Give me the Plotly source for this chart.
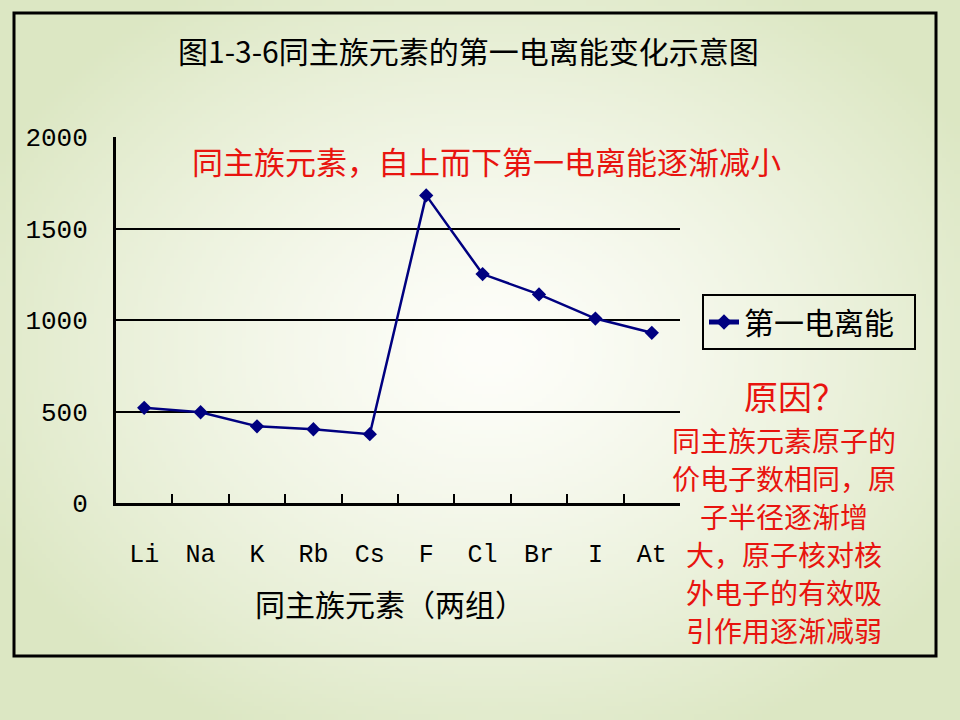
import base64, struct, zlib
import numpy as np
import plotly.graph_objects as go

# ---------------- data ----------------
elements = ["Li", "Na", "K", "Rb", "Cs", "F", "Cl", "Br", "I", "At"]
ionization = [520, 496, 419, 403, 376, 1681, 1251, 1140, 1008, 930]
y_ticks = [0, 500, 1000, 1500, 2000]
series_name = "第一电离能"
title_text = "图1-3-6同主族元素的第一电离能变化示意图"
x_title = "同主族元素（两组）"
note_top = "同主族元素，自上而下第一电离能逐渐减小"
reason_head = "原因？"
reason_lines = ["同主族元素原子的", "价电子数相同，原", "子半径逐渐增",
                "大，原子核对核", "外电子的有效吸", "引作用逐渐减弱"]

# ---------------- geometry helpers ----------------
W, H = 960, 720
L, R, T, B = 116, 680, 137, 503   # plot area in pixels
pw, ph = R - L, B - T

def px(x):
    return (x - L) / pw

def py(y):
    return (B - y) / ph

# ---------------- background gradient (png) ----------------
gw, gh = 240, 180
xs = (np.arange(gw) + 0.5) * W / gw
ys = (np.arange(gh) + 0.5) * H / gh
X, Y = np.meshgrid(xs, ys)
r = np.sqrt(((X - 490) / 560) ** 2 + ((Y - 350) / 430) ** 2)
t = np.clip(r, 0, 1) ** 1.3
c0 = np.array([254, 254, 250], float)
c1 = np.array([220, 231, 195], float)
img = (c0[None, None, :] * (1 - t[..., None]) + c1[None, None, :] * t[..., None]).astype(np.uint8)

def chunk(tag, data):
    c = struct.pack(">I", len(data)) + tag + data
    return c + struct.pack(">I", zlib.crc32(tag + data) & 0xFFFFFFFF)

raw = b"".join(b"\x00" + img[i].tobytes() for i in range(gh))
png = (b"\x89PNG\r\n\x1a\n" + chunk(b"IHDR", struct.pack(">IIBBBBB", gw, gh, 8, 2, 0, 0, 0))
       + chunk(b"IDAT", zlib.compress(raw, 9)) + chunk(b"IEND", b""))
bg_src = "data:image/png;base64," + base64.b64encode(png).decode()

CJK = "Noto Sans CJK SC"
MONO = "Liberation Mono"
NAVY = "#000080"
RED = "#e8140f"

fig = go.Figure()
fig.add_trace(go.Scatter(
    x=elements, y=ionization, mode="lines+markers", name=series_name + "\u2002",
    line=dict(color=NAVY, width=2.5),
    marker=dict(symbol="diamond", size=11, color=NAVY),
))

fig.update_layout(
    width=W, height=H,
    margin=dict(l=L, r=W - R, t=T, b=H - B),
    paper_bgcolor="#eef3e0",
    plot_bgcolor="rgba(0,0,0,0)",
    showlegend=True,
    legend=dict(x=px(702), y=py(294), xanchor="left", yanchor="top",
                bordercolor="black", borderwidth=2, bgcolor="rgba(0,0,0,0)",
                font=dict(family=CJK, size=30, color="black"),
                itemsizing="constant"),
    xaxis=dict(type="category", range=[-0.5, len(elements) - 0.5],
               tickson="boundaries", ticks="inside", ticklen=9,
               tickwidth=2, tickcolor="black", showline=True, linecolor="black",
               linewidth=3, showgrid=False, ticklabelstandoff=26,
               tickfont=dict(family=MONO, size=25, color="black")),
    yaxis=dict(range=[0, 2000], tickvals=y_ticks, showline=True, linecolor="black",
               linewidth=3, showgrid=True, gridcolor="black", gridwidth=2,
               zeroline=False, ticks="inside", ticklen=6, tickwidth=2, tickcolor="black",
               ticklabelstandoff=20,
               tickfont=dict(family=MONO, size=26, color="black")),
    images=[dict(source=bg_src, xref="paper", yref="paper", x=px(0), y=py(0),
                 sizex=W / pw, sizey=H / ph, xanchor="left", yanchor="top",
                 sizing="stretch", layer="below")],
    shapes=[dict(type="rect", xref="paper", yref="paper",
                 x0=px(14), x1=px(936), y0=py(656), y1=py(13),
                 line=dict(color="black", width=3), fillcolor="rgba(0,0,0,0)")],
)

annos = [
    dict(text=title_text, x=px(468), y=py(50), font=dict(family=CJK, size=30, color="black")),
    dict(text=x_title, x=px(390), y=py(603), font=dict(family=CJK, size=30, color="black")),
    dict(text=note_top, x=px(486), y=py(160), font=dict(family=CJK, size=31, color=RED)),
    dict(text=reason_head, x=px(795), y=py(395), font=dict(family=CJK, size=34, color=RED)),
]
# reason text: one annotation per line, stacked at a fixed line pitch
line_top, line_pitch = 440, 38
for i, s in enumerate(reason_lines):
    annos.append(dict(text=s, x=px(784), y=py(line_top + i * line_pitch),
                      font=dict(family=CJK, size=28, color=RED)))
for a in annos:
    fig.add_annotation(xref="paper", yref="paper", showarrow=False,
                       xanchor="center", yanchor="middle", **a)

fig.write_html("out.html")
